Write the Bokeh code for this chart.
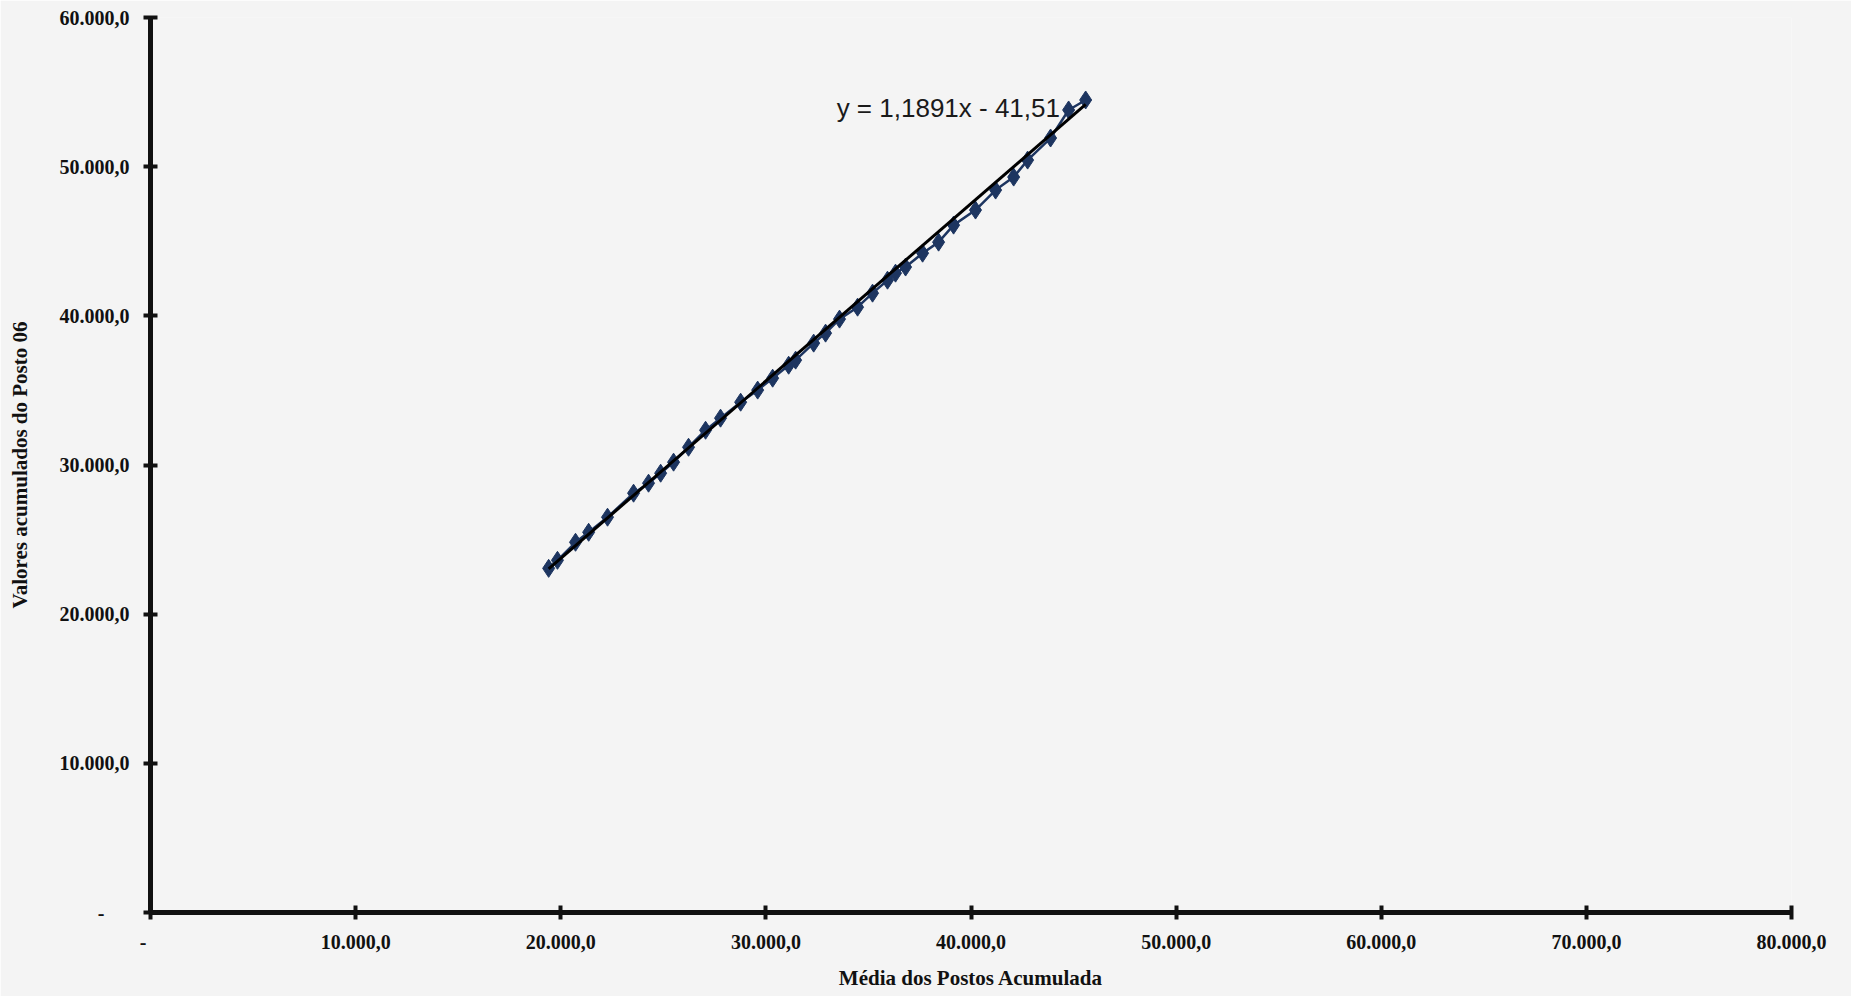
from bokeh.plotting import figure
from bokeh.models import Range1d, FixedTicker, Label
from bokeh.embed import file_html
from bokeh.resources import INLINE

# Data
media_postos = [19410, 19840, 20720, 21360, 22280, 23550, 24280, 24870, 25500, 26230,
                27060, 27790, 28770, 29600, 30330, 31110, 31450, 32330, 32910, 33590,
                34470, 35200, 35930, 36320, 36810, 37640, 38420, 39150, 40220, 41200,
                42080, 42760, 43880, 44760, 45590]
posto_06 = [23070, 23610, 24820, 25490, 26500, 28110, 28780, 29450, 30190, 31190,
            32330, 33140, 34210, 35020, 35820, 36690, 37030, 38170, 38840, 39780,
            40580, 41520, 42390, 42860, 43270, 44200, 44940, 46080, 47090, 48430,
            49300, 50440, 51920, 53800, 54470]

trend_slope = 1.1891
trend_intercept = -41.51
trend_label = "y = 1,1891x - 41,51"

x_ticks = [0, 10000, 20000, 30000, 40000, 50000, 60000, 70000, 80000]
x_tick_labels = ["-\u00a0\u00a0\u00a0", "10.000,0", "20.000,0", "30.000,0", "40.000,0",
                 "50.000,0", "60.000,0", "70.000,0", "80.000,0"]
y_ticks = [0, 10000, 20000, 30000, 40000, 50000, 60000]
y_tick_labels = ["-\u00a0\u00a0\u00a0\u00a0\u00a0", "10.000,0", "20.000,0", "30.000,0",
                 "40.000,0", "50.000,0", "60.000,0"]

x_title = "Média dos Postos Acumulada"
y_title = "Valores acumulados do Posto 06"

BG = "#f4f4f4"
NAVY = "#1d3560"
SERIF = "Liberation Serif"

p = figure(width=1851, height=996, output_backend="svg", toolbar_location=None,
           x_range=Range1d(0, 80000), y_range=Range1d(0, 60000),
           min_border_left=150, min_border_right=60, min_border_top=17,
           min_border_bottom=84)
p.background_fill_color = BG
p.border_fill_color = BG
p.outline_line_color = None
p.xgrid.grid_line_color = None
p.ygrid.grid_line_color = None

# Series: markers connected by a line
p.line(media_postos, posto_06, line_color=NAVY, line_width=2.5)
p.scatter(media_postos, posto_06, marker="diamond", size=18,
          fill_color=NAVY, line_color=NAVY)

# Linear trendline from the displayed equation
tx = [min(media_postos), max(media_postos)]
ty = [trend_slope * v + trend_intercept for v in tx]
p.line(tx, ty, line_color="black", line_width=3)

p.add_layout(Label(x=33450, y=53930, text=trend_label, text_font="Liberation Sans",
                   text_font_size="26px", text_color="#1a1a1a",
                   text_align="left", text_baseline="middle"))

for ax, ticks, labels in ((p.xaxis[0], x_ticks, x_tick_labels),
                          (p.yaxis[0], y_ticks, y_tick_labels)):
    ax.ticker = FixedTicker(ticks=ticks)
    ax.major_label_overrides = {t: l for t, l in zip(ticks, labels)}
    ax.axis_line_width = 5
    ax.axis_line_color = "#111111"
    ax.major_tick_line_width = 4
    ax.major_tick_line_color = "#111111"
    ax.major_tick_in = 7
    ax.major_tick_out = 7
    ax.minor_tick_line_color = None
    ax.major_label_text_font = SERIF
    ax.major_label_text_font_style = "bold"
    ax.major_label_text_font_size = "20px"
    ax.major_label_text_color = "#111111"
    ax.axis_label_text_font = SERIF
    ax.axis_label_text_font_style = "bold"
    ax.axis_label_text_font_size = "21px"
    ax.axis_label_text_color = "#111111"

p.xaxis.axis_label = x_title
p.yaxis.axis_label = y_title
p.xaxis.major_label_standoff = 11
p.yaxis.major_label_standoff = 14
p.xaxis.axis_label_standoff = 10
p.yaxis.axis_label_standoff = 25

open("out.html", "w").write(file_html(p, INLINE))
